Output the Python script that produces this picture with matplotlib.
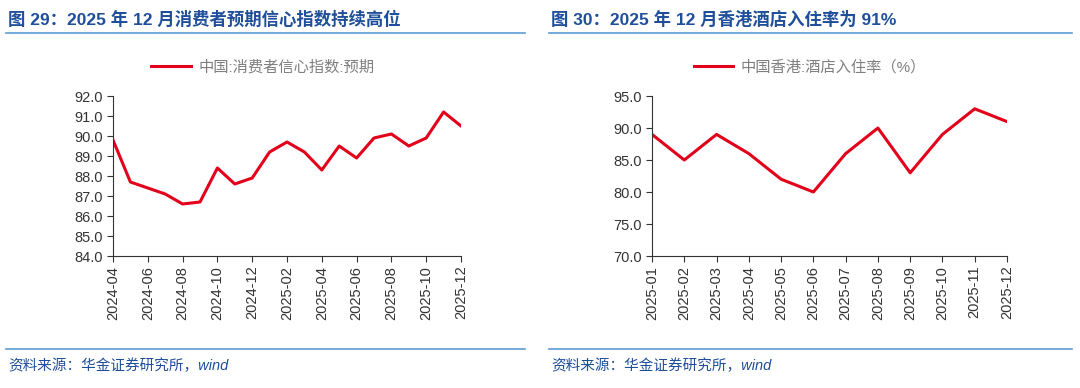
import numpy as np
import matplotlib
matplotlib.use('Agg')
import matplotlib.pyplot as plt
from matplotlib.lines import Line2D
from matplotlib.ticker import FormatStrFormatter

plt.rcParams['font.family'] = ['Liberation Sans', 'Noto Sans CJK SC', 'DejaVu Sans']

# left: consumer expectation index
months_l = ['2024-04', '2024-05', '2024-06', '2024-07', '2024-08', '2024-09', '2024-10',
            '2024-11', '2024-12', '2025-01', '2025-02', '2025-03', '2025-04', '2025-05',
            '2025-06', '2025-07', '2025-08', '2025-09', '2025-10', '2025-11', '2025-12']
expect_idx = [89.8, 87.7, 87.4, 87.1, 86.6, 86.7, 88.4, 87.6, 87.9, 89.2, 89.7,
              89.2, 88.3, 89.5, 88.9, 89.9, 90.1, 89.5, 89.9, 91.2, 90.5]

# right: HK hotel occupancy
months_r = ['2025-01', '2025-02', '2025-03', '2025-04', '2025-05', '2025-06',
            '2025-07', '2025-08', '2025-09', '2025-10', '2025-11', '2025-12']
hk_occ = [89, 85, 89, 86, 82, 80, 86, 90, 83, 89, 93, 91]

title_l = '图 29：2025 年 12 月消费者预期信心指数持续高位'
title_r = '图 30：2025 年 12 月香港酒店入住率为 91%'
legend_l = '中国:消费者信心指数:预期'
legend_r = '中国香港:酒店入住率（%）'
source = '资料来源：华金证券研究所，wind'

red = '#E2001A'
blue_txt = '#1F4E9A'
blue_ln = '#5B9BD5'
W, H = 1080, 388

fig = plt.figure(figsize=(10.8, 3.88), dpi=100)


def fx(px):
    return px / W


def fy(py):
    return 1 - py / H


def panel(x0, x1, ax_l, ax_r, months, vals, step, ylim, ystep, title, leg, leg_cx):
    # title + separators
    fig.text(fx(x0 + 2), fy(19), title, color=blue_txt, fontsize=12.5,
             fontweight='bold', va='center', ha='left')
    fig.add_artist(Line2D([fx(x0), fx(x1)], [fy(33), fy(33)], color=blue_ln, lw=1.2))
    fig.add_artist(Line2D([fx(x0), fx(x1)], [fy(349), fy(349)], color=blue_ln, lw=1.2))
    fig.text(fx(x0 + 2), fy(366), source, color=blue_txt, fontsize=10.5,
             style='italic', va='center', ha='left')

    ax = fig.add_axes([fx(ax_l), fy(256), fx(ax_r - ax_l), (256 - 96) / H])
    x = np.arange(len(vals))
    ln, = ax.plot(x, vals, color=red, lw=2.2)
    ax.set_xlim(0, len(vals) - 1)
    ax.set_ylim(*ylim)
    ax.set_yticks(np.arange(ylim[0], ylim[1] + 0.01, ystep))
    ax.yaxis.set_major_formatter(FormatStrFormatter('%.1f'))
    ax.set_xticks(x[::step])
    ax.set_xticklabels(months[::step], rotation=90)
    for s in ['top', 'right']:
        ax.spines[s].set_visible(False)
    for s in ['left', 'bottom']:
        ax.spines[s].set_color('#333333')
        ax.spines[s].set_linewidth(0.8)
    ax.tick_params(axis='both', labelsize=10.5, colors='#333333', length=4, width=0.8)
    ax.tick_params(axis='x', pad=3)
    fig.legend([ln], [leg], loc='center', bbox_to_anchor=(fx(leg_cx), fy(67)),
               frameon=False, fontsize=11, labelcolor='#7F7F7F',
               handlelength=2.6, handletextpad=0.5)
    return ax


panel(6, 525, 113, 461, months_l, expect_idx, 2, (84, 92), 1, title_l, legend_l, 263)
panel(549, 1072, 652, 1007, months_r, hk_occ, 1, (70, 95), 5, title_r, legend_r, 810)

fig.savefig('out.png', dpi=100)
